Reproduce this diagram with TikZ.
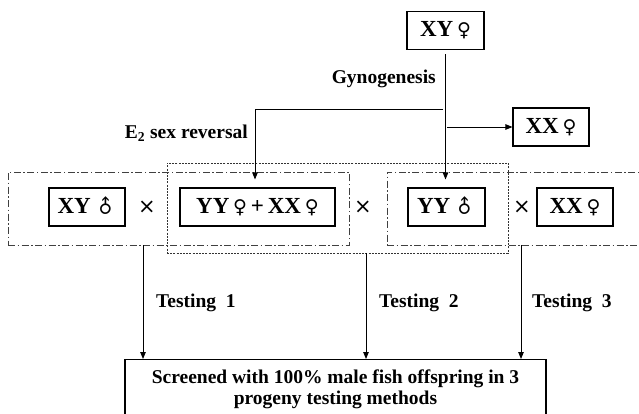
\documentclass[tikz,border=0pt]{standalone}
\usepackage{fontspec}
\setmainfont{Liberation Serif}
\newfontfamily\symfnt{DejaVu Sans}
\newfontfamily\crossfnt{DejaVu Sans}
\usetikzlibrary{arrows.meta}
\newcommand{\femsym}{{\symfnt\mdseries\fontsize{19}{22}\selectfont ♀}}
\newcommand{\malsym}{{\symfnt\mdseries\fontsize{19}{22}\selectfont\rotatebox[origin=c]{45}{♂}}}
\begin{document}
\begin{tikzpicture}[x=1pt, y=-1pt,
  box/.style={draw, line width=1.1pt, minimum height=38pt, inner sep=0pt, font=\fontsize{23}{25}\selectfont\bfseries},
  lab/.style={font=\fontsize{19.5}{21}\selectfont\bfseries, inner sep=0pt},
  crs/.style={font=\crossfnt\fontsize{21}{22}\selectfont, inner sep=0pt},
  arr/.style={-{Triangle[length=7pt,width=5.5pt]}, line width=0.9pt},
  ddot/.style={draw=black!75, line width=0.9pt, dash pattern=on 7pt off 2.5pt on 1.5pt off 2.5pt, inner sep=0pt},
  dott/.style={draw=black!80, line width=0.8pt, dash pattern=on 2pt off 1.2pt, inner sep=0pt}]
\useasboundingbox (0,0) rectangle (639,413);
\fill[white] (0,0) rectangle (639,413);
\clip (0,0) rectangle (639,413);
% group frames
\node[dott, minimum width=341pt, minimum height=90pt] (g2) at (337.5,208) {};
\node[ddot, minimum width=341pt, minimum height=73pt] (g1) at (178.5,208.5) {};
\node[ddot, minimum width=263pt, minimum height=73pt] (g3) at (518.5,208.5) {};
% boxes
\node[box, minimum width=77pt] (xyf) at (445.5,30.5) {XY\,\femsym};
\node[box, minimum width=76pt] (xxf) at (551,127) {XX\,\femsym};
\node[box, minimum width=76pt] (xym) at (87,207) {XY\,\malsym};
\node[box, minimum width=155pt] (yyxx) at (257.5,207) {YY\,\femsym\,+\,XX\,\femsym};
\node[box, minimum width=77pt] (yym) at (446.5,207) {YY\,\malsym};
\node[box, minimum width=76pt] (xxf2) at (575,207) {XX\,\femsym};
\node[crs] (c1) at (147,207) {×};
\node[crs] (c2) at (363,207) {×};
\node[crs] (c3) at (522,207) {×};
% result
\node[draw, line width=1.1pt, minimum width=421pt, minimum height=80pt, anchor=north, inner sep=0pt] (res) at (335.5,359) {};
\node[lab, align=center, anchor=north] (restext) at ([yshift=-11pt]res.north) {Screened with 100\% male fish offspring in 3\\progeny testing methods};
% labels
\node[lab, anchor=east] (gyn) at (436,79) {Gynogenesis};
\node[lab, anchor=east] (e2) at (248,133) {E\textsubscript{2} sex reversal};
\node[lab, anchor=west] (tl1) at (156,303) {Testing\ \ 1};
\node[lab, anchor=west] (tl2) at (379,303) {Testing\ \ 2};
\node[lab, anchor=west] (tl3) at (532,303) {Testing\ \ 3};
% connectors
\draw[arr, shorten <=4pt, shorten >=8pt] (xyf.south) -- (xyf.south |- yym.north);
\coordinate (br) at (443,109);
\draw[arr, shorten >=8pt] (br) -| ([xshift=-2.5pt]yyxx.north);
\coordinate (br2) at (447,127);
\draw[arr] (br2) -- (br2 -| xxf.west);
\coordinate (t1) at (143,0);
\coordinate (t2) at (366,0);
\coordinate (t3) at (521,0);
\draw[arr] (g1.south -| t1) -- (res.north -| t1);
\draw[arr] (g2.south -| t2) -- (res.north -| t2);
\draw[arr] (g3.south -| t3) -- (res.north -| t3);
\end{tikzpicture}
\end{document}
